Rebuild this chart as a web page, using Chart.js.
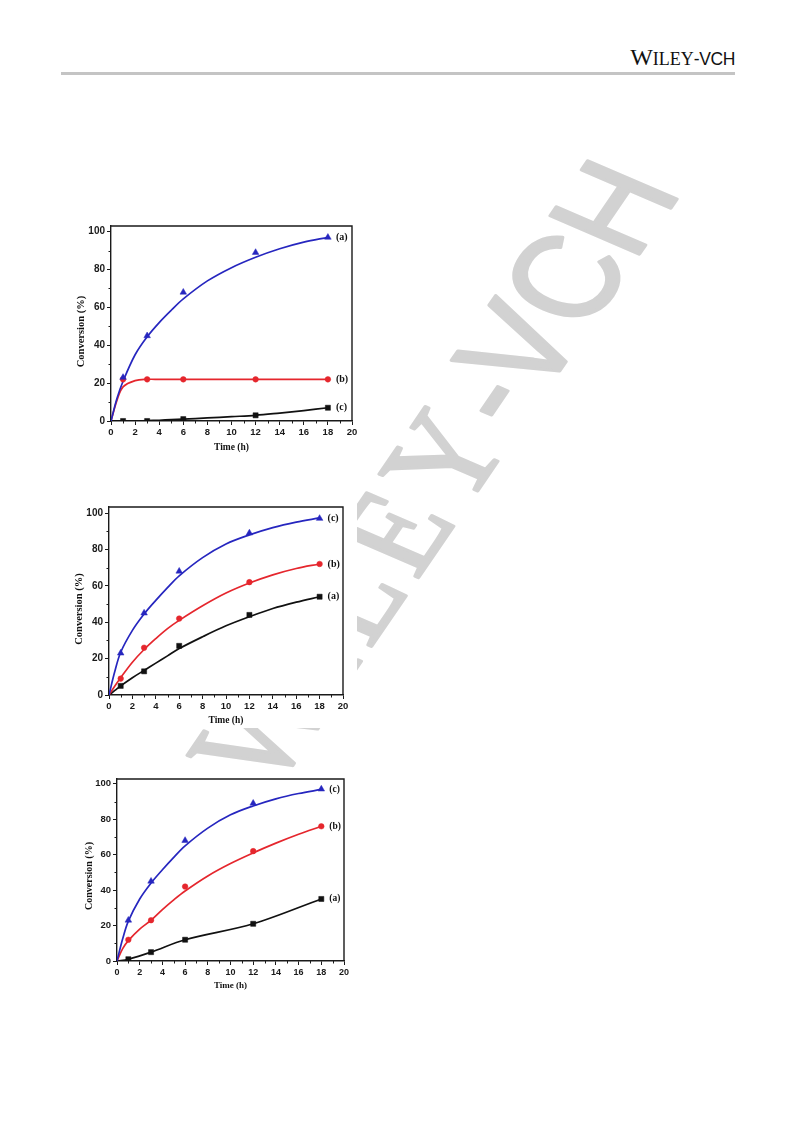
<!DOCTYPE html>
<html><head><meta charset="utf-8">
<script src="https://cdn.jsdelivr.net/npm/chart.js@4.4.1/dist/chart.umd.min.js"></script>
<style>
html,body{margin:0;padding:0;background:#fff;}
body{width:793px;height:1121px;position:relative;overflow:hidden;}
#hdr{position:absolute;right:58px;top:44px;line-height:26px;color:#111;white-space:nowrap;}
#hdr .w{font-family:"Liberation Serif";font-size:24px;}
#hdr .s{font-family:"Liberation Serif";font-size:18px;}
#hdr .v{font-family:"Liberation Sans";font-size:17.5px;letter-spacing:-0.4px;}
#rule{position:absolute;left:61px;top:72px;width:674px;height:3px;background:#c4c4c4;}
#wm{position:absolute;left:0;top:0;}
.box{position:absolute;background:#fff;}
.box canvas{display:block;}
</style></head><body>
<div id="hdr"><span class="w">W</span><span class="s">ILEY</span><span class="v">-VCH</span></div>
<div id="rule"></div>
<svg id="wm" width="793" height="1121"><text transform="matrix(0.478 -0.700 0.919 0.395 272 792)" font-size="141" fill="#d2d2d2" stroke="#d2d2d2" stroke-width="3.5" stroke-linejoin="round"><tspan font-family="Liberation Serif" letter-spacing="12">WILEY</tspan><tspan font-family="Liberation Sans">-VCH</tspan></text></svg>
<div class="box" id="b1" style="left:70px;top:218px;width:292px;height:240px;"><canvas id="c1"></canvas></div>
<div class="box" id="b2" style="left:70px;top:498px;width:287px;height:230px;"><canvas id="c2"></canvas></div>
<div class="box" id="b3" style="left:75px;top:770px;width:285px;height:230px;"><canvas id="c3"></canvas></div>
<script>
// ---------- data ----------
const TIME = [1, 3, 6, 12, 18];
const FIT_TIME = [0, 0.5, 1, 2, 3, 4, 5, 6, 8, 10, 12, 14, 16, 18];
const LINE_TIME = [0, 1, 3, 6, 12, 18];
const MINOR_X_TICKS = [1, 3, 5, 7, 9, 11, 13, 15, 17, 19];
const MINOR_Y_TICKS = [10, 30, 50, 70, 90];
const X_TITLE = 'Time (h)';
const Y_TITLE = 'Conversion (%)';

// Chart 1
const c1_labels = ['(a)', '(b)', '(c)'];
const c1_a = [23, 45, 68, 89, 97];
const c1_a_fit = [0, 12, 21, 35, 44.5, 52, 58.5, 64.5, 74, 81, 86.5, 91, 94.5, 97];
const c1_b = [22, 22, 22, 22, 22];
const c1_b_fit = [0, 11, 18, 21.3, 22, 22, 22, 22, 22, 22, 22, 22, 22, 22];
const c1_c = [0, 0, 1, 3, 7];
const c1_c_fit = [0, 0, 0, 0, 0.2, 0.4, 0.7, 1, 1.6, 2.3, 3, 4.2, 5.5, 7];

// Chart 2
const c2_labels = ['(c)', '(b)', '(a)'];
const c2_c = [23, 45, 68, 89, 97];
const c2_c_fit = [0, 13, 23.5, 35.5, 44.5, 52, 59, 65.5, 75.5, 83, 88, 92, 95, 97.3];
const c2_b = [9, 26, 42, 62, 72];
const c2_b_fit = [0, 5, 9.5, 18, 25, 31, 36.5, 41, 49, 56, 61.5, 66, 69.5, 72];
const c2_a = [5, 13, 27, 44, 54];
const c2_a_fit = [0, 2.5, 5, 9.5, 13.5, 17.5, 21.5, 25.5, 32, 38, 43, 47.5, 51, 54];

// Chart 3
const c3_labels = ['(c)', '(b)', '(a)'];
const c3_c = [23, 45, 68, 89, 97];
const c3_c_fit = [0, 12.5, 22.5, 35, 44, 51.5, 58.5, 65, 75, 82.5, 87.5, 91.5, 94.5, 96.8];
const c3_b = [12, 23, 42, 62, 76];
const c3_b_fit = [0, 7, 11.5, 18, 23, 29, 34.5, 39.5, 48, 55, 61, 66.5, 71.5, 76];
const c3_a = [1, 5, 12, 21, 35];
const c3_a_fit = [0, 1, 5, 12, 21, 35];

// ---------- styling ----------
const BLUE = '#2626bf', RED = '#e5262d', BLACK = '#111111', AXIS = '#1a1a1a';
Chart.defaults.font.family = '"Liberation Sans", Arial, sans-serif';

const decor = {
  id: 'decor',
  afterDraw(chart, args, o) {
    const {ctx, chartArea: a, scales: {x, y}} = chart;
    ctx.save();
    ctx.strokeStyle = AXIS;
    ctx.lineWidth = 1.4;
    ctx.beginPath();
    ctx.moveTo(a.left, a.top); ctx.lineTo(a.right, a.top); ctx.lineTo(a.right, a.bottom);
    ctx.stroke();
    ctx.lineWidth = 1;
    ctx.beginPath();
    MINOR_X_TICKS.forEach(v => { const p = Math.round(x.getPixelForValue(v)) + 0.5; ctx.moveTo(p, a.bottom); ctx.lineTo(p, a.bottom + 2.5); });
    MINOR_Y_TICKS.forEach(v => { const p = Math.round(y.getPixelForValue(v)) + 0.5; ctx.moveTo(a.left - 2.5, p); ctx.lineTo(a.left, p); });
    ctx.stroke();
    // series labels
    ctx.fillStyle = BLACK;
    ctx.font = 'bold ' + o.labelSize + 'px "Liberation Serif"';
    ctx.textAlign = 'left'; ctx.textBaseline = 'middle';
    o.labels.forEach((t, i) => {
      const pts = o.ends[i];
      ctx.fillText(t, x.getPixelForValue(TIME[TIME.length - 1]) + 8, y.getPixelForValue(pts[pts.length - 1]));
    });
    // axis titles
    ctx.font = 'bold ' + o.xTitleSize + 'px "Liberation Serif"';
    ctx.textAlign = 'center';
    ctx.fillText(X_TITLE, (a.left + a.right) / 2, a.bottom + o.xTitleDy);
    ctx.font = 'bold ' + o.yTitleSize + 'px "Liberation Serif"';
    ctx.translate(a.left + o.yTitleDx, (a.top + a.bottom) / 2 + o.yTitleDy);
    ctx.rotate(-Math.PI / 2);
    ctx.fillText(Y_TITLE, 0, 0);
    ctx.restore();
  }
};

function buildChart(id, series, labels, lay) {
  const datasets = [];
  series.forEach(s => {
    datasets.push({
      data: s.fitX.map((xv, i) => ({x: xv, y: s.fit[i]})),
      borderColor: s.color, borderWidth: 1.7, pointRadius: 0,
      tension: 0.35, fill: false, order: 1
    });
    datasets.push({
      data: TIME.map((xv, i) => ({x: xv, y: s.pts[i]})),
      showLine: false, pointStyle: s.style, pointRadius: s.r,
      pointBackgroundColor: s.color, pointBorderColor: s.color, pointBorderWidth: 0.5, order: 0
    });
  });
  const xFont = {size: lay.xTick, weight: 'bold', family: '"Liberation Sans"'};
  const yFont = {size: lay.yTick, weight: 'bold', family: '"Liberation Sans"'};
  const grid = {display: true, drawOnChartArea: false, drawTicks: true, tickLength: 4, tickColor: AXIS, tickWidth: 1};
  const border = {display: true, color: AXIS, width: 1.4};
  new Chart(document.getElementById(id), {
    type: 'line',
    data: {datasets},
    options: {
      responsive: true, maintainAspectRatio: false, animation: false,
      layout: {padding: {left: 0, right: lay.right, top: lay.top, bottom: 0}},
      plugins: {legend: {display: false}, tooltip: {enabled: false},
        decor: {labels, ends: series.map(s => s.pts), labelSize: lay.labelSize,
          xTitleSize: lay.xTitleSize, yTitleSize: lay.yTitleSize,
          xTitleDy: lay.xTitleDy, yTitleDx: lay.yTitleDx, yTitleDy: lay.yTitleDy}},
      scales: {
        x: {type: 'linear', min: 0, max: 20, grid, border,
          ticks: {stepSize: 2, font: xFont, color: AXIS, padding: 2, maxRotation: 0, includeBounds: false},
          afterFit: s => { s.height = lay.xh; }},
        y: {type: 'linear', min: 0, max: lay.ymax, grid, border,
          ticks: {stepSize: 20, font: yFont, color: AXIS, padding: 2, includeBounds: false},
          afterFit: s => { s.width = lay.yw; }}
      }
    },
    plugins: [decor]
  });
}

buildChart('c1', [
  {pts: c1_a, fit: c1_a_fit, fitX: FIT_TIME, color: BLUE, style: 'triangle', r: 3.8},
  {pts: c1_b, fit: c1_b_fit, fitX: FIT_TIME, color: RED, style: 'circle', r: 2.8},
  {pts: c1_c, fit: c1_c_fit, fitX: FIT_TIME, color: BLACK, style: 'rect', r: 3.6}
], c1_labels, {right: 10, top: 8, xh: 37, yw: 41, ymax: 103, xTick: 9.5, yTick: 10, labelSize: 10,
  xTitleSize: 9.5, yTitleSize: 10.5, xTitleDy: 26.5, yTitleDx: -30, yTitleDy: 8});

buildChart('c2', [
  {pts: c2_c, fit: c2_c_fit, fitX: FIT_TIME, color: BLUE, style: 'triangle', r: 3.8},
  {pts: c2_b, fit: c2_b_fit, fitX: FIT_TIME, color: RED, style: 'circle', r: 2.8},
  {pts: c2_a, fit: c2_a_fit, fitX: FIT_TIME, color: BLACK, style: 'rect', r: 3.6}
], c2_labels, {right: 14, top: 9, xh: 33, yw: 39, ymax: 103.3, xTick: 9.5, yTick: 10, labelSize: 10,
  xTitleSize: 9.5, yTitleSize: 10.5, xTitleDy: 25.5, yTitleDx: -29.5, yTitleDy: 8});

buildChart('c3', [
  {pts: c3_c, fit: c3_c_fit, fitX: FIT_TIME, color: BLUE, style: 'triangle', r: 3.8},
  {pts: c3_b, fit: c3_b_fit, fitX: FIT_TIME, color: RED, style: 'circle', r: 2.8},
  {pts: c3_a, fit: c3_a_fit, fitX: LINE_TIME, color: BLACK, style: 'rect', r: 3.6}
], c3_labels, {right: 16, top: 9, xh: 39, yw: 42, ymax: 102.7, xTick: 9, yTick: 9.5, labelSize: 9.5,
  xTitleSize: 9, yTitleSize: 10, xTitleDy: 24.5, yTitleDx: -28, yTitleDy: 6});
</script>
</body></html>
